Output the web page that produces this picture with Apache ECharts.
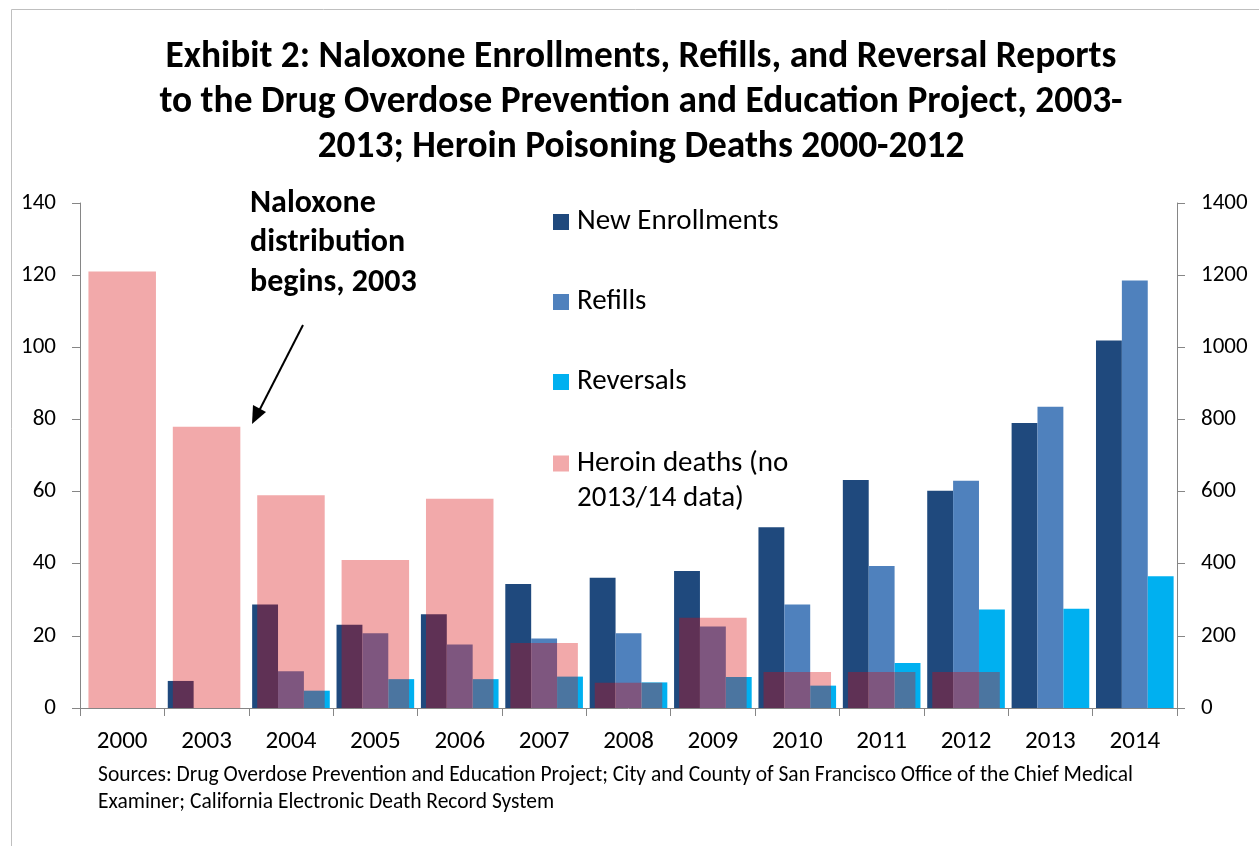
<!DOCTYPE html>
<html>
<head>
<meta charset="utf-8">
<script src="https://cdn.jsdelivr.net/npm/echarts@6/dist/echarts.min.js"></script>
<style>
html,body{margin:0;padding:0;background:#fff;}
#chart{width:1259px;height:846px;}
</style>
</head>
<body>
<div id="chart"></div>
<script>
const categories = ['2000','2003','2004','2005','2006','2007','2008','2009','2010','2011','2012','2013','2014'];
const enrollments = [null, 75, 287, 231, 260, 344, 361, 380, 501, 632, 602, 790, 1019];
const refills = [null, null, 102, 207, 176, 193, 207, 226, 287, 394, 630, 835, 1185];
const reversals = [null, null, 48, 80, 80, 87, 71, 86, 62, 125, 273, 275, 365];
const heroinDeaths = [121, 78, 59, 41, 58, 18, 7, 25, 10, 10, 10, null, null];
const leftAxis = {min: 0, max: 140, interval: 20};
const rightAxis = {min: 0, max: 1400, interval: 200};
const titleText = 'Exhibit 2: Naloxone Enrollments, Refills, and Reversal Reports\nto the Drug Overdose Prevention and Education Project, 2003-\n2013; Heroin Poisoning Deaths 2000-2012';
const noteText = 'Naloxone\ndistribution\nbegins, 2003';
const sourceText = 'Sources: Drug Overdose Prevention and Education Project; City and County of San Francisco Office of the Chief Medical\nExaminer; California Electronic Death Record System';
const seriesNames = ['New Enrollments', 'Refills', 'Reversals', 'Heroin deaths (no\n2013/14 data)'];

const FONT = 'Carlito, Lato, sans-serif';
const AXIS_GREY = '#868686';

const chart = echarts.init(document.getElementById('chart'));

function yAxisCfg(cfg, pos) {
  return Object.assign({
    type: 'value', position: pos,
    axisLine: {show: true, lineStyle: {color: AXIS_GREY, width: 1}},
    axisTick: {show: true, length: 8, lineStyle: {color: AXIS_GREY}},
    splitLine: {show: false},
    axisLabel: {fontFamily: FONT, fontSize: 23, color: '#000', margin: 24,
      formatter: function (v) { return String(v); }}
  }, cfg);
}

chart.setOption({
  backgroundColor: '#fff',
  animation: false,
  title: {
    text: titleText,
    left: 636, top: 30, textAlign: 'center',
    textStyle: {fontFamily: FONT, fontWeight: 'bold', fontSize: 37.4, lineHeight: 45, color: '#000'}
  },
  grid: {left: 80, right: 82, top: 203, bottom: 138, containLabel: false},
  legend: [{
    orient: 'vertical', left: 553, top: 207, padding: 0,
    itemWidth: 16, itemHeight: 16, itemGap: 50, icon: 'rect',
    selectedMode: false,
    textStyle: {fontFamily: FONT, fontSize: 29, lineHeight: 30, color: '#000', padding: [0, 0, 0, 3]},
    data: [seriesNames[0], seriesNames[1], seriesNames[2]]
  }, {
    orient: 'vertical', left: 553, top: 411, padding: 0,
    itemWidth: 16, itemHeight: 16, icon: 'rect',
    selectedMode: false,
    formatter: function (name) { return '\n' + name; },
    textStyle: {fontFamily: FONT, fontSize: 29, lineHeight: 35, color: '#000', padding: [0, 0, 0, 3]},
    data: [seriesNames[3]]
  }],
  xAxis: [{
    type: 'category', data: categories,
    axisLine: {lineStyle: {color: AXIS_GREY, width: 1}},
    axisTick: {show: true, length: 8, interval: 0, lineStyle: {color: AXIS_GREY}},
    axisLabel: {fontFamily: FONT, fontSize: 25, color: '#000', margin: 21, interval: 0}
  }, {
    type: 'category', data: categories, show: false
  }],
  yAxis: [yAxisCfg(leftAxis, 'left'), yAxisCfg(rightAxis, 'right')],
  series: [{
    name: seriesNames[0], type: 'bar', xAxisIndex: 0, yAxisIndex: 1,
    data: enrollments, itemStyle: {color: '#1F497D'},
    barGap: '0%', barCategoryGap: '8%'
  }, {
    name: seriesNames[1], type: 'bar', xAxisIndex: 0, yAxisIndex: 1,
    data: refills, itemStyle: {color: '#4F81BD'},
    barGap: '0%', barCategoryGap: '8%'
  }, {
    name: seriesNames[2], type: 'bar', xAxisIndex: 0, yAxisIndex: 1,
    data: reversals, itemStyle: {color: '#00B0F0'},
    barGap: '0%', barCategoryGap: '8%'
  }, {
    name: seriesNames[3], type: 'bar', xAxisIndex: 1, yAxisIndex: 0,
    data: heroinDeaths, itemStyle: {color: 'rgba(216,5,10,0.345)'},
    barCategoryGap: '20%'
  }],
  graphic: [{
    type: 'rect', silent: true,
    shape: {x: 11.5, y: 9.5, width: 1300, height: 900},
    style: {fill: 'none', stroke: '#BFBFBF', lineWidth: 1}
  }, {
    type: 'text', left: 250, top: 184,
    style: {text: noteText, fontFamily: FONT, fontWeight: 'bold', fontSize: 32, lineHeight: 39.5, fill: '#000'}
  }, {
    type: 'line', silent: true,
    shape: {x1: 303, y1: 325, x2: 259, y2: 411},
    style: {stroke: '#000', lineWidth: 2}
  }, {
    type: 'polygon', silent: true,
    shape: {points: [[252, 424], [253, 405], [266, 412]]},
    style: {fill: '#000'}
  }, {
    type: 'text', left: 98, top: 762,
    style: {text: sourceText, fontFamily: FONT, fontSize: 21.5, lineHeight: 27, fill: '#000'}
  }]
});
</script>
</body>
</html>
